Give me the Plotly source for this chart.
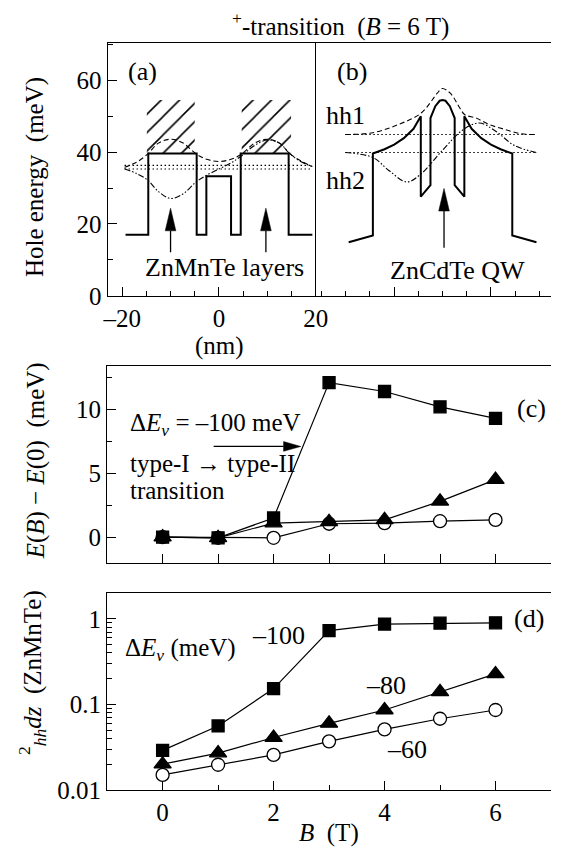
import plotly.graph_objects as go

W, H = 564, 861

# ---------------- panel (a): hole potential with ZnMnTe layers ----------------
a_pot_x = [-19.3, -14.6, -14.6, -4.6, -4.6, -2.6, -2.6, 2.5, 2.5, 4.5, 4.5, 14.4, 14.4, 19.3]
a_pot_y = [17.0, 17.0, 39.6, 39.6, 17.0, 17.0, 33.3, 33.3, 17.0, 17.0, 39.6, 39.6, 17.0, 17.0]
a_hatch_blocks = [(-14.9, -5.0), (4.7, 14.9)]
a_hatch_y = (39.6, 54.5)
a_wf_x = [-19.5, -17.0, -14.7, -12.5, -10.0, -7.5, -4.7, -2.5, 0.0, 2.5, 4.7, 7.5, 10.0, 12.5, 14.7, 17.0, 19.3]
a_hh1_y = [35.8, 37.2, 39.5, 42.5, 43.6, 42.6, 39.5, 38.0, 37.4, 38.0, 39.5, 42.6, 43.6, 42.5, 39.5, 37.5, 36.0]
a_hh2_y = [35.4, 34.0, 32.2, 29.0, 27.1, 28.3, 31.7, 33.6, 35.3, 37.0, 39.0, 42.0, 43.4, 42.5, 39.5, 37.3, 36.0]
a_level_x = [-19.5, 19.3]
a_levels = [36.3, 35.3]
a_xtick_vals = [-20, 0, 20]
a_xtick_text = ["\u201320", "0", "20"]

# ---------------- panel (b): ZnCdTe QW ----------------
b_pot_x = [-19.4, -14.4, -14.4, -12.0, -10.0, -8.0, -6.0, -4.5, -4.5, -2.5, -2.5, -1.5, -0.6, 0.0,
           0.6, 1.5, 2.5, 2.5, 4.5, 4.5, 6.0, 8.0, 10.0, 12.0, 14.4, 14.4, 19.4]
b_pot_y = [14.9, 16.8, 39.6, 40.8, 42.1, 43.9, 46.5, 50.0, 27.6, 30.8, 49.5, 52.8, 54.3, 54.5,
           54.3, 52.8, 49.5, 30.8, 27.6, 50.0, 46.5, 43.9, 42.1, 40.8, 39.6, 16.8, 14.9]
b_hh1_x = [-20.1, -14.4, -9.1, -4.4, -1.1, -0.1, 1.6, 3.6, 4.6, 6.9, 9.6, 12.9, 16.3, 19.4]
b_hh1_y = [44.9, 45.4, 47.7, 50.9, 56.4, 57.7, 56.4, 52.2, 50.4, 49.5, 47.7, 46.3, 45.1, 44.9]
b_hh2_x = [-20.1, -14.4, -11.1, -7.4, -4.4, -0.1, 4.3, 7.6, 10.9, 14.9, 19.4]
b_hh2_y = [39.9, 38.5, 34.9, 31.7, 34.0, 40.4, 46.3, 48.1, 45.9, 41.8, 39.9]
b_level_x = [-20.1, 19.4]
b_levels = [44.9, 39.9]

# ---------------- panels (c), (d) ----------------
B = [0, 1, 2, 3, 4, 5, 6]
c_m100 = [0.0, -0.05, 1.5, 12.1, 11.4, 10.2, 9.3]
c_m80 = [0.0, -0.05, 1.1, 1.2, 1.35, 2.8, 4.5]
c_m60 = [0.0, -0.05, -0.05, 1.05, 1.1, 1.25, 1.35]
d_m100 = [0.029, 0.056, 0.153, 0.73, 0.87, 0.89, 0.90]
d_m80 = [0.020, 0.027, 0.041, 0.060, 0.086, 0.14, 0.227]
d_m60 = [0.015, 0.0197, 0.0257, 0.037, 0.051, 0.068, 0.086]
d_ytick_vals = [0.01, 0.1, 1]
d_ytick_text = ["0.01", "0.1", "1"]
d_minor_vals = [m * 10 ** e for e in (-2, -1, 0) for m in range(2, 10) if m * 10 ** e < 1.9]

FONT = "Liberation Serif"
BLK = "black"

fig = go.Figure()


def line(x, y, xa, ya, width=1.3, dash="solid", shape="linear"):
    fig.add_trace(go.Scatter(x=x, y=y, xaxis=xa, yaxis=ya, mode="lines",
                             line=dict(color=BLK, width=width, dash=dash, shape=shape),
                             hoverinfo="skip", showlegend=False))


def arrow(tail, tip, head_len, head_half, xa, ya):
    (x0, y0), (x1, y1) = tail, tip
    if x0 == x1:
        s = 1 if y1 > y0 else -1
        base = y1 - s * head_len
        line([x0, x0], [y0, base], xa, ya, width=1.3)
        hx = [x1 - head_half, x1 + head_half, x1, x1 - head_half]
        hy = [base, base, y1, base]
    else:
        s = 1 if x1 > x0 else -1
        base = x1 - s * head_len
        line([x0, base], [y0, y0], xa, ya, width=1.3)
        hx = [base, base, x1, base]
        hy = [y1 - head_half, y1 + head_half, y1, y1 - head_half]
    fig.add_trace(go.Scatter(x=hx, y=hy, xaxis=xa, yaxis=ya, mode="lines", fill="toself",
                             fillcolor=BLK, line=dict(color=BLK, width=0.5),
                             hoverinfo="skip", showlegend=False))


# ---- (a) ----
for (h0, h1) in a_hatch_blocks:
    fig.add_trace(go.Scatter(x=[h0, h1, h1, h0, h0],
                             y=[a_hatch_y[0], a_hatch_y[0], a_hatch_y[1], a_hatch_y[1], a_hatch_y[0]],
                             xaxis="x", yaxis="y", mode="lines", fill="toself", fillcolor="white",
                             fillpattern=dict(shape="/", fgcolor=BLK, bgcolor="white", fgopacity=1,
                                              size=13, solidity=0.12),
                             line=dict(width=0, color="rgba(0,0,0,0)"), hoverinfo="skip", showlegend=False))
for lv in a_levels:
    line(a_level_x, [lv, lv], "x", "y", width=1.1, dash="1.5px,2.5px")
line(a_wf_x, a_hh1_y, "x", "y", width=1.1, dash="5px,3px", shape="spline")
line(a_wf_x, a_hh2_y, "x", "y", width=1.1, dash="6px,2px,1.5px,2px,1.5px,2px", shape="spline")
line(a_pot_x, a_pot_y, "x", "y", width=2.0)
arrow((-10.0, 12.1), (-10.0, 24.4), 6.3, 1.1, "x", "y")
arrow((9.7, 12.1), (9.7, 24.4), 6.3, 1.1, "x", "y")

# ---- (b) ----
for lv in b_levels:
    line(b_level_x, [lv, lv], "x2", "y2", width=1.1, dash="1.5px,2.5px")
line(b_hh1_x, b_hh1_y, "x2", "y2", width=1.1, dash="5px,3px", shape="spline")
line(b_hh2_x, b_hh2_y, "x2", "y2", width=1.1, dash="6px,2px,1.5px,2px,1.5px,2px", shape="spline")
line(b_pot_x, b_pot_y, "x2", "y2", width=2.0)
arrow((0.3, 13.4), (0.3, 29.9), 6.3, 1.1, "x2", "y2")


# ---- (c), (d) ----
def series(y, xa, ya, symbol, size, fill):
    fig.add_trace(go.Scatter(x=B, y=y, xaxis=xa, yaxis=ya, mode="lines+markers",
                             line=dict(color=BLK, width=1.2),
                             marker=dict(symbol=symbol, size=size, color=fill,
                                         line=dict(color=BLK, width=1.3)),
                             hoverinfo="skip", showlegend=False, cliponaxis=False))


series(c_m60, "x3", "y3", "circle", 13, "white")
series(c_m100, "x3", "y3", "square", 12, BLK)
series(c_m80, "x3", "y3", "triangle-up", 15, BLK)
arrow((0.92, 7.1), (2.49, 7.1), 0.31, 0.38, "x3", "y3")

series(d_m60, "x4", "y4", "circle", 13, "white")
series(d_m100, "x4", "y4", "square", 12, BLK)
series(d_m80, "x4", "y4", "triangle-up", 15, BLK)

tickfont = dict(family=FONT, size=25, color=BLK)
base_ax = dict(showline=True, linecolor=BLK, linewidth=1.3, ticks="inside", tickcolor=BLK,
               tickwidth=1.2, ticklen=9, showgrid=False, zeroline=False, tickfont=tickfont)
minor_ax = dict(ticks="inside", ticklen=5, tickcolor=BLK, tickwidth=1.2, showgrid=False)

top_dom = [1 - 300.7 / H, 1 - 44 / H]
c_dom = [1 - 572 / H, 1 - 372 / H]
d_dom = [1 - 803 / H, 1 - 603 / H]
cd_x = [105.5 / W, 1.0]

fig.update_layout(
    width=W, height=H, margin=dict(l=0, r=0, t=0, b=0, pad=0), autosize=False,
    paper_bgcolor="white", plot_bgcolor="rgba(0,0,0,0)", showlegend=False,
    xaxis=dict(base_ax, domain=[106 / W, 321 / W], range=[-23.0, 20.0], anchor="y", mirror=True,
               tickmode="array", tickvals=a_xtick_vals, ticktext=a_xtick_text,
               minor=dict(minor_ax, dtick=5, tick0=0)),
    yaxis=dict(base_ax, domain=top_dom, range=[0, 70.3], anchor="x", dtick=20, tick0=0,
               minor=dict(minor_ax, dtick=10, tick0=0)),
    xaxis2=dict(base_ax, domain=[321 / W, 1.0], range=[-26.2, 22.4], anchor="y2", mirror=True,
                tickmode="array", tickvals=[-10, 10], showticklabels=False,
                minor=dict(minor_ax, dtick=5, tick0=0)),
    yaxis2=dict(base_ax, domain=top_dom, range=[0, 70.3], anchor="x2", ticks="",
                showticklabels=False),
    xaxis3=dict(base_ax, domain=cd_x, range=[-1, 7], anchor="y3", mirror=True, dtick=1, tick0=0,
                showticklabels=False),
    yaxis3=dict(base_ax, domain=c_dom, range=[-2.0, 13.4], anchor="x3", tickmode="array",
                tickvals=[0, 5, 10], minor=dict(minor_ax, dtick=2.5, tick0=0)),
    xaxis4=dict(base_ax, domain=cd_x, range=[-1, 7], anchor="y4", mirror=True, tickmode="array",
                tickvals=[0, 2, 4, 6], minor=dict(minor_ax, dtick=1, tick0=0)),
    yaxis4=dict(base_ax, domain=d_dom, type="log", range=[-2, 0.30], anchor="x4", tickmode="array",
                tickvals=d_ytick_vals, ticktext=d_ytick_text,
                minor=dict(minor_ax, tickmode="array", tickvals=d_minor_vals)),
)

anns = []


def ann(text, x, y, xref="paper", yref="paper", xanchor="center", yanchor="middle", size=26, angle=0):
    if xref == "paper":
        x = x / W
    if yref == "paper":
        y = 1 - y / H
    anns.append(dict(text=text, x=x, y=y, xref=xref, yref=yref, xanchor=xanchor, yanchor=yanchor,
                     showarrow=False, textangle=angle, font=dict(family=FONT, size=size, color=BLK)))


ann("<sup>+</sup>-transition  (<i>B</i> = 6 T)", 347, 25, size=25)
ann("(a)", 142, 73)
ann("(b)", 358, 73)
ann("hh1", 352, 117)
ann("hh2", 352, 183)
ann("ZnMnTe layers", 227, 272)
ann("ZnCdTe QW", 467, 275)
ann("(nm)", 222, 352, size=25)
ann("Hole energy  (meV)", 31, 180, angle=-90, size=25)
ann("<i>E</i>(<i>B</i>) \u2212 <i>E</i>(0)  (meV)", 32, 468, angle=-90, size=25)
ann("<sup>2</sup><sub><i>hh</i></sub><i>dz</i>  (ZnMnTe)", 28, 684, angle=-90, size=25)

ann("(c)", 6.65, 10.1, "x3", "y3")
ann("\u0394<i>E</i><sub><i>v</i></sub> = \u2013100 meV", -0.62, 8.85, "x3", "y3", xanchor="left", size=25)
ann("type-I \u2192 type-II", -0.62, 5.75, "x3", "y3", xanchor="left", size=25)
ann("transition", -0.62, 3.65, "x3", "y3", xanchor="left", size=25)

ann("(d)", 6.6, 0.0, "x4", "y4")
ann("\u2013100", 2.09, -0.19, "x4", "y4")
ann("\u0394<i>E</i><sub><i>v</i></sub> (meV)", -0.72, -0.36, "x4", "y4", xanchor="left", size=25)
ann("\u201380", 4.03, -0.78, "x4", "y4")
ann("\u201360", 4.4, -1.53, "x4", "y4")
ann("<i>B</i>  (T)", 3.0, 847, "x4", "paper", size=25)

fig.update_layout(annotations=anns)
fig.write_html("out.html")
